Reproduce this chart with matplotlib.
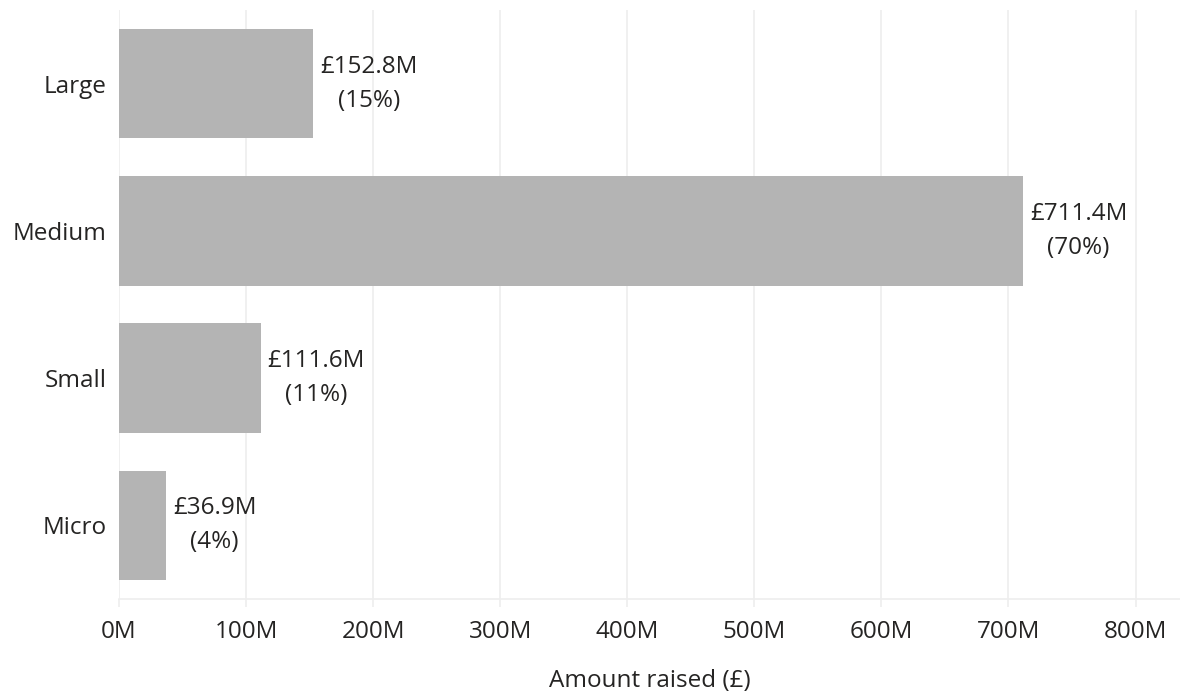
import matplotlib.pyplot as plt
from matplotlib.ticker import FuncFormatter

# charity size bands and amount raised (in £ millions)
sizes = ["Large", "Medium", "Small", "Micro"]
raised = [152.8, 711.4, 111.6, 36.9]
xticks = [0, 100, 200, 300, 400, 500, 600, 700, 800]

total = sum(raised)
shares = [v / total * 100 for v in raised]

plt.rcParams['font.family'] = ['Open Sans', 'DejaVu Sans']
text_col = '#252423'
grid_col = '#eeeeee'
fs = 17.5

fig = plt.figure(figsize=(11.8, 6.94), dpi=100)
ax = fig.add_axes([119 / 1180, 95 / 694, 1 - 119 / 1180, 589 / 694])

ypos = list(range(len(sizes)))
ax.barh(ypos, raised, height=0.745, color='#b4b4b4', zorder=2)

for y, v, p in zip(ypos, raised, shares):
    ax.annotate(f"£{v:.1f}M\n({p:.0f}%)", xy=(v, y), xytext=(5, 0),
                textcoords='offset points', ha='left', va='center',
                multialignment='center', fontsize=fs, color=text_col,
                linespacing=1.55)

ax.set_yticks(ypos)
ax.set_yticklabels(sizes)
ax.set_ylim(3.5, -0.5)
ax.set_xlim(0, 835)
ax.set_xticks(xticks)
ax.xaxis.set_major_formatter(FuncFormatter(lambda x, _: f"{x:.0f}M"))

ax.grid(axis='x', color=grid_col, linewidth=1.2, zorder=0)
ax.tick_params(axis='x', length=6, color=grid_col, width=1.2,
               labelsize=fs, labelcolor=text_col, pad=9)
ax.tick_params(axis='y', length=0, labelsize=fs, labelcolor=text_col, pad=9)

for s in ['top', 'right', 'left']:
    ax.spines[s].set_visible(False)
ax.spines['bottom'].set_color(grid_col)
ax.spines['bottom'].set_linewidth(1.2)

ax.set_xlabel("Amount raised (£)", fontsize=fs, color=text_col, labelpad=18)

fig.savefig("out.png", dpi=100)
